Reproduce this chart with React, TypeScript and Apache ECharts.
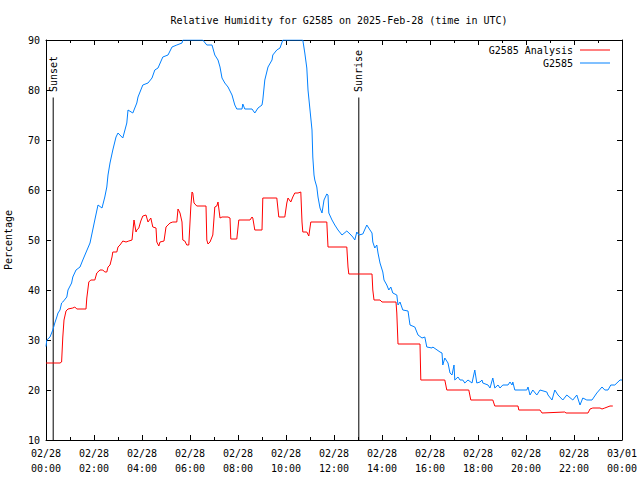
import React, { useEffect, useRef } from "react";
import * as echarts from "echarts";

// minutes after 2025-02-28 00:00 UTC
const obsMinutes = [
  0, 2, 10, 17, 22, 27, 30, 35, 39, 42, 52, 55, 64, 67, 75, 85, 92, 110, 122, 130,
  140, 147, 152, 155, 160, 167, 175, 180, 192, 202, 205, 217, 227, 230, 242, 255, 265, 272, 280, 292,
  305, 315, 327, 340, 342, 392, 402, 415, 422, 430, 435, 440, 447, 455, 465, 472, 477, 490, 492, 497,
  515, 522, 530, 540, 542, 547, 555, 565, 567, 577, 585, 592, 642, 647, 652, 655, 660, 665, 667, 670,
  672, 677, 680, 685, 690, 695, 702, 705, 707, 715, 722, 730, 740, 752, 760, 767, 772, 777, 782, 792,
  802, 810, 815, 817, 822, 827, 830, 835, 842, 845, 852, 857, 862, 867, 877, 880, 885, 892, 905, 910,
  922, 930, 940, 947, 952, 965, 967, 985, 990, 992, 997, 1005, 1010, 1015, 1020, 1022, 1030, 1035, 1042, 1047,
  1055, 1065, 1072, 1077, 1085, 1090, 1092, 1105, 1110, 1117, 1122, 1130, 1135, 1142, 1155, 1160, 1165, 1167, 1172, 1202,
  1205, 1210, 1217, 1227, 1235, 1252, 1255, 1265, 1272, 1280, 1292, 1302, 1317, 1327, 1335, 1342, 1352, 1365, 1377, 1390,
  1397, 1405, 1412, 1422, 1435, 1440,
];
const obsValues = [
  28.7, 30, 30.6, 32, 33.4, 34.6, 35.4, 36, 37.4, 37.6, 38.6, 40, 41.4, 42.6, 44, 44.6, 46, 49.4, 54, 57,
  56.4, 58.6, 60.6, 63, 65.4, 68, 70.6, 71.4, 70.4, 73.4, 76, 75.4, 77.4, 78.6, 81, 81.4, 82.4, 84, 84.4, 86.6,
  87, 88.6, 89, 89.4, 90, 90, 89, 89, 87, 86, 84.6, 82.4, 81.4, 80.6, 79, 77, 76.2, 76.2, 77.2, 76.2,
  76.2, 75.4, 76.4, 77, 78, 82, 84.6, 86, 87, 88, 88.4, 90, 90, 87.4, 84.4, 80, 76, 72, 66.6, 63,
  62, 60.6, 58.6, 56.4, 55.4, 58, 59.2, 59, 55.4, 54, 53, 52, 51, 51.8, 51.2, 50.6, 50, 51.6, 51, 51.2,
  53, 52, 51.4, 49.6, 48.4, 49, 47.4, 45.4, 43.6, 42, 41, 40, 40.6, 39.4, 39, 37, 37.6, 36, 35.8, 33,
  32.6, 31, 30.4, 30.6, 28.6, 28.4, 28.6, 27.6, 27.4, 25, 26.4, 25.4, 23.4, 23, 25, 22, 22.6, 22, 22, 21.4,
  22, 21.4, 24, 21.4, 21.6, 22, 21.4, 21, 20.4, 22.4, 20.4, 21, 20.4, 21, 21, 21.6, 21, 21.6, 20, 20,
  20.6, 19, 20, 19, 20, 19.6, 19, 18, 20, 19, 18, 19, 18, 19, 17, 18.4, 18, 18, 19.4, 20.6,
  20, 20, 21, 21, 22, 22,
];

const anaMinutes = [
  0, 35, 39, 42, 45, 50, 55, 67, 72, 77, 100, 102, 107, 112, 122, 127, 135, 142, 147, 152,
  155, 160, 165, 167, 177, 180, 185, 192, 200, 207, 215, 220, 225, 227, 232, 237, 242, 250, 255, 262,
  267, 275, 277, 282, 285, 295, 300, 305, 310, 317, 327, 330, 335, 340, 342, 347, 352, 357, 362, 365,
  367, 370, 377, 400, 402, 405, 410, 415, 417, 422, 427, 430, 435, 440, 455, 460, 462, 477, 482, 510,
  515, 517, 522, 540, 542, 577, 582, 597, 602, 605, 612, 617, 622, 630, 637, 640, 642, 652, 657, 662,
  702, 705, 752, 755, 757, 815, 817, 820, 835, 840, 875, 877, 880, 935, 937, 997, 1002, 1057, 1062, 1117,
  1122, 1180, 1182, 1235, 1240, 1297, 1300, 1355, 1360, 1367, 1385, 1390, 1397, 1410, 1417,
];
const anaValues = [
  25.4, 25.4, 25.6, 30.6, 34, 35.8, 36.2, 36.4, 36.6, 36.2, 36.2, 38.4, 41.6, 42, 42, 43.4, 44, 44, 43.6, 43.6,
  44.6, 45, 46.6, 47.6, 47.6, 48.6, 49, 49.8, 49.6, 49.8, 50, 54, 51.6, 52, 52.4, 53.8, 54.8, 55, 53.6, 54.4,
  52.6, 52.4, 49.6, 48.8, 49.6, 49.8, 52.6, 53, 53.4, 53.6, 53.6, 56.2, 55.4, 53.6, 50, 49.8, 49, 49, 56.6, 59.6,
  59.4, 57.4, 56.8, 56.8, 50, 49.2, 49.6, 50.6, 51, 56.6, 56.8, 57.6, 54.4, 54.6, 54.6, 54.4, 50.2, 50.2, 54, 54,
  54.6, 54.4, 52, 52, 58.4, 58.4, 54.6, 54.6, 57.4, 58.4, 57.6, 58.6, 59.4, 59.4, 59.6, 53.6, 51.6, 51.6, 50.8, 53.6,
  53.6, 48.6, 48.6, 44.6, 43.2, 43.2, 40, 38, 38, 37.6, 37.6, 35.4, 29.2, 29.2, 22, 22, 20, 20, 18, 18,
  16.8, 16.8, 16, 16, 15.4, 15.6, 15.4, 15.4, 16.2, 16.4, 16.4, 16.2, 16.4, 16.8, 16.8,
];

const sunNames = ["Sunset", "Sunrise"];
const sunMinutes = [18, 782];
const sunLineTop = 78.5;
const sunLabelBase = 79.6;

const xTickLabels = [
  "02/28\n00:00", "02/28\n02:00", "02/28\n04:00", "02/28\n06:00", "02/28\n08:00", "02/28\n10:00",
  "02/28\n12:00", "02/28\n14:00", "02/28\n16:00", "02/28\n18:00", "02/28\n20:00", "02/28\n22:00",
  "03/01\n00:00",
];

const titleText = "Relative Humidity for G2585 on 2025-Feb-28 (time in UTC)";
const FONT = "DejaVu Sans Mono";

export default function App() {
  const ref = useRef<HTMLDivElement>(null);
  useEffect(() => {
    if (!ref.current) return;
    const chart = echarts.init(ref.current, null, { renderer: "svg" });
    const textStyle = { fontFamily: FONT, fontSize: 10, color: "#000" };
    const axisLine = { show: true, onZero: false, lineStyle: { color: "#000", width: 1 } };
    const xCommon = {
      type: "value",
      min: 0,
      max: 1440,
      interval: 120,
      axisLine,
      axisTick: { show: true, inside: true, length: 5, lineStyle: { color: "#000" } },
      minorTick: { show: true, splitNumber: 2, length: 3, lineStyle: { color: "#000" } },
      splitLine: { show: false },
      minorSplitLine: { show: false },
    };
    const yCommon = {
      type: "value",
      min: 10,
      max: 90,
      interval: 10,
      axisLine,
      axisTick: { show: true, inside: true, length: 5, lineStyle: { color: "#000" } },
      splitLine: { show: false },
    };
    const sunSeries = sunMinutes.map((m, i) => ({
      name: sunNames[i],
      type: "line",
      data: [
        [m, 10],
        [m, sunLineTop],
      ],
      symbol: "none",
      silent: true,
      lineStyle: { color: "#000", width: 1 },
      z: 1,
    }));
    chart.setOption({
      animation: false,
      backgroundColor: "#fff",
      textStyle: { fontFamily: FONT },
      title: {
        text: titleText,
        left: 334,
        textAlign: "center",
        top: 10,
        textStyle: { fontFamily: FONT, fontSize: 10, fontWeight: "normal", color: "#000" },
      },
      legend: {
        data: ["G2585 Analysis", "G2585"],
        orient: "vertical",
        align: "right",
        right: 25,
        top: 40,
        itemWidth: 30,
        itemHeight: 1,
        itemGap: 3,
        icon: "rect",
        textStyle: { ...textStyle, padding: [0, 2, 0, 0] },
        selectedMode: false,
      },
      grid: {
        left: 46,
        right: 18,
        top: 40,
        bottom: 40,
        containLabel: false,
        outerBoundsMode: "none",
      },
      xAxis: [
        {
          ...xCommon,
          position: "bottom",
          axisLabel: {
            ...textStyle,
            margin: 6,
            lineHeight: 15,
            formatter: (v: number) => xTickLabels[Math.round(v / 120)] ?? "",
          },
        },
        { ...xCommon, position: "top", axisLabel: { show: false } },
      ],
      yAxis: [
        {
          ...yCommon,
          position: "left",
          name: "Percentage",
          nameLocation: "middle",
          nameGap: 33,
          nameRotate: 90,
          nameTextStyle: textStyle,
          axisLabel: { ...textStyle, margin: 6 },
        },
        { ...yCommon, position: "right", axisLabel: { show: false } },
      ],
      series: [
        {
          name: "G2585 Analysis",
          type: "line",
          data: anaMinutes.map((m, i) => [m, anaValues[i]]),
          symbol: "none",
          color: "#ff0000",
          lineStyle: { color: "#ff0000", width: 1 },
          z: 3,
        },
        {
          name: "G2585",
          type: "line",
          data: obsMinutes.map((m, i) => [m, obsValues[i]]),
          symbol: "none",
          color: "#0080ff",
          lineStyle: { color: "#0080ff", width: 1 },
          z: 4,
        },
        ...sunSeries,
      ],
    } as any);
    const graphics = sunMinutes.map((m, i) => {
      const p = chart.convertToPixel({ gridIndex: 0 } as any, [m, sunLabelBase]) as number[];
      return {
        type: "text",
        x: p[0],
        y: p[1],
        rotation: Math.PI / 2,
        style: {
          text: sunNames[i],
          font: `10px '${FONT}'`,
          fill: "#000",
          align: "left",
          verticalAlign: "middle",
        },
        silent: true,
      };
    });
    chart.setOption({ graphic: graphics } as any);
    return () => chart.dispose();
  }, []);
  return (
    <div
      ref={ref}
      style={{ position: "fixed", left: 0, top: 0, width: 640, height: 480 }}
    />
  );
}
